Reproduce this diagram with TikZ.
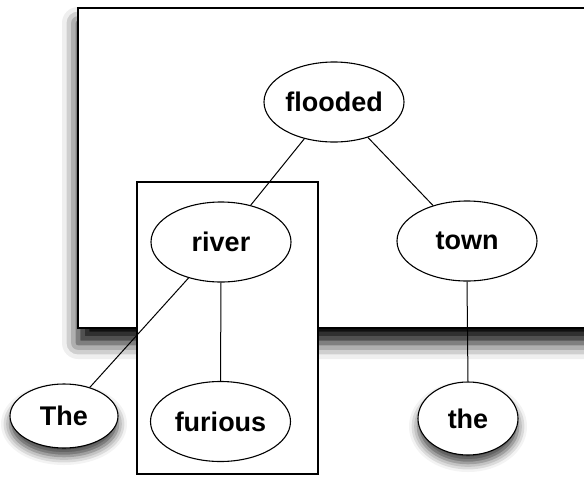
\documentclass[tikz,border=0pt]{standalone}
\usepackage{fontspec}
\setmainfont{Liberation Sans}
\usetikzlibrary{shapes.geometric,shadows.blur}

\tikzset{
  word/.style={ellipse, draw, line width=1.1pt, fill=white, inner sep=0pt,
    font=\fontsize{27}{31}\selectfont\bfseries},
  big/.style={word, minimum width=140pt, minimum height=80pt},
  soft/.style={blur shadow={shadow xshift=0pt, shadow yshift=-8pt,
    shadow blur radius=9pt, shadow opacity=75}},
  link/.style={line width=1pt},
  frame/.style={draw, line width=1.2pt, fill=white}
}

\begin{document}
\begin{tikzpicture}[x=1pt, y=-1pt]
  \useasboundingbox (0,0) rectangle (584,477);
  \clip (0,0) rectangle (584,477);

  % outer clause box with its shadow
  \path[frame, blur shadow={shadow xshift=0pt, shadow yshift=-15pt,
    shadow blur radius=16pt, shadow opacity=100}] (78,8) rectangle (610,328);
  % inner phrase box
  \path[frame] (137,182) rectangle (318,474);

  % words
  \node[big] (flooded) at (334,102) {flooded};
  \node[big] (river) at (221,242) {river};
  \node[big] (town) at (467,241) {town};
  \node[word, soft, minimum width=108pt, minimum height=64pt] (The) at (64,416) {The};
  \node[big] (furious) at (220.5,421.5) {furious};
  \node[word, soft, minimum width=100pt, minimum height=73pt] (the) at (468,418.5) {the};

  % dependencies
  \draw[link] (flooded) -- (river);
  \draw[link] (flooded) -- (town);
  \draw[link] (river) -- (The);
  \draw[link] (river.south) -- (furious.north);
  \draw[link] (town.south) -- (the.north);
\end{tikzpicture}
\end{document}
